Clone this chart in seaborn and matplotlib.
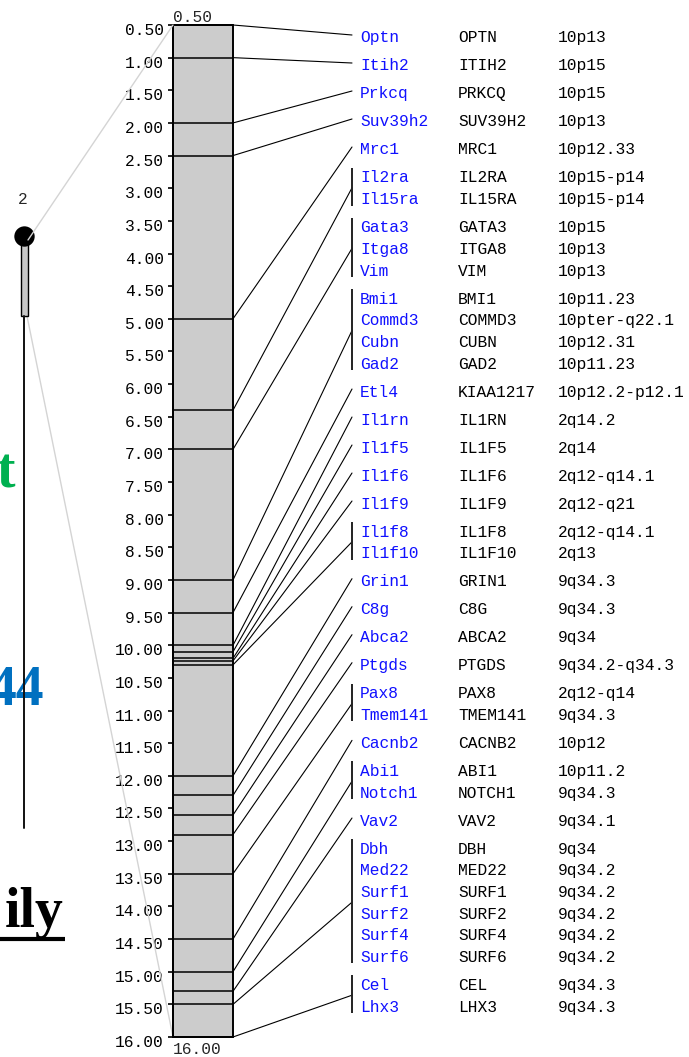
import numpy as np
import matplotlib
matplotlib.use("Agg")
import matplotlib.pyplot as plt
import matplotlib.transforms as mtransforms
import seaborn as sns

# ---- linkage map data (positions in cM) ----
chromosome = "2"
map_start, map_end = 0.50, 16.00
marker_cm = [0.50, 1.00, 2.00, 2.50, 5.00, 6.40, 7.00, 9.00, 9.50, 10.00,
             10.10, 10.20, 10.24, 10.30, 12.00, 12.30, 12.60, 12.90, 13.50,
             14.50, 15.00, 15.30, 15.50, 16.00]
genes_per_marker = [1, 1, 1, 1, 1, 2, 3, 4, 1, 1, 1, 1, 1, 2, 1, 1, 1, 1, 2,
                    1, 2, 1, 6, 2]
gene_names = ["Optn", "Itih2", "Prkcq", "Suv39h2", "Mrc1", "Il2ra", "Il15ra",
              "Gata3", "Itga8", "Vim", "Bmi1", "Commd3", "Cubn", "Gad2", "Etl4",
              "Il1rn", "Il1f5", "Il1f6", "Il1f9", "Il1f8", "Il1f10", "Grin1",
              "C8g", "Abca2", "Ptgds", "Pax8", "Tmem141", "Cacnb2", "Abi1",
              "Notch1", "Vav2", "Dbh", "Med22", "Surf1", "Surf2", "Surf4",
              "Surf6", "Cel", "Lhx3"]
gene_symbols = ["OPTN", "ITIH2", "PRKCQ", "SUV39H2", "MRC1", "IL2RA", "IL15RA",
                "GATA3", "ITGA8", "VIM", "BMI1", "COMMD3", "CUBN", "GAD2",
                "KIAA1217", "IL1RN", "IL1F5", "IL1F6", "IL1F9", "IL1F8",
                "IL1F10", "GRIN1", "C8G", "ABCA2", "PTGDS", "PAX8", "TMEM141",
                "CACNB2", "ABI1", "NOTCH1", "VAV2", "DBH", "MED22", "SURF1",
                "SURF2", "SURF4", "SURF6", "CEL", "LHX3"]
gene_locations = ["10p13", "10p15", "10p15", "10p13", "10p12.33", "10p15-p14",
                  "10p15-p14", "10p15", "10p13", "10p13", "10p11.23",
                  "10pter-q22.1", "10p12.31", "10p11.23", "10p12.2-p12.1",
                  "2q14.2", "2q14", "2q12-q14.1", "2q12-q21", "2q12-q14.1",
                  "2q13", "9q34.3", "9q34.3", "9q34", "9q34.2-q34.3",
                  "2q12-q14", "9q34.3", "10p12", "10p11.2", "9q34.3", "9q34.1",
                  "9q34", "9q34.2", "9q34.2", "9q34.2", "9q34.2", "9q34.2",
                  "9q34.3", "9q34.3"]
tick_step = 0.50

# ---- styling ----
sns.set_theme(style="ticks")
plt.rcParams["font.family"] = ["Liberation Mono", "DejaVu Sans Mono"]
FS = 11.7
GENE_BLUE = "#1010ff"

W, H = 689, 1057
fig = plt.figure(figsize=(W / 100, H / 100), dpi=100)
ax = fig.add_axes([0, 0, 1, 1])

# vertical layout: the map spans these pixel rows
TOP_PX, BOT_PX = 25, 1037
S = (BOT_PX - TOP_PX) / (map_end - map_start)


def cm(py):
    """pixel row -> map coordinate"""
    return map_start + (py - TOP_PX) / S


ax.set_xlim(0, W)
ax.set_ylim(cm(H), cm(0))

BAR_L, BAR_R = 173, 233
LINK_X = 352
COL_NAME, COL_SYM, COL_LOC = 360, 458, 558

# ---- chromosome bar ----
ax.bar(x=(BAR_L + BAR_R) / 2, height=map_end - map_start, bottom=map_start,
       width=BAR_R - BAR_L, color="#cccccc", edgecolor="black",
       linewidth=1.4, zorder=2)
ax.hlines(marker_cm, BAR_L, BAR_R, color="black", lw=1.1, zorder=3,
          clip_on=False)

# axis at the left edge of the bar
for side in ["top", "right", "bottom"]:
    ax.spines[side].set_visible(False)
ax.spines["left"].set_position(("data", BAR_L))
ax.spines["left"].set_bounds(map_start, map_end)
ax.spines["left"].set_linewidth(1.4)
ax.spines["left"].set_color("black")
ticks = np.arange(map_start, map_end + 1e-9, tick_step)
ax.set_yticks(ticks)
ax.set_yticklabels([f"{t:.2f}" for t in ticks])
ax.set_xticks([])
ax.tick_params(axis="y", length=3.6, width=1.2, pad=3, labelsize=FS,
               direction="out", colors="black")
lift = mtransforms.ScaledTranslation(0, 0.02, fig.dpi_scale_trans)
for lab in ax.get_yticklabels():
    lab.set_va("top")
    lab.set_transform(lab.get_transform() + lift)
ax.grid(False)

ax.text(BAR_L, cm(TOP_PX - 3), f"{map_start:.2f}", ha="left", va="baseline",
        fontsize=FS)
ax.text(BAR_L, cm(BOT_PX + 5), f"{map_end:.2f}", ha="left", va="top",
        fontsize=FS)

# ---- gene table ----
FIRST_ROW, GROUP_GAP, ROW_GAP = 37, 28, 21.67
y = FIRST_ROW
k = 0
for g, (pos, n) in enumerate(zip(marker_cm, genes_per_marker)):
    if g > 0:
        y += GROUP_GAP
    rows = []
    for i in range(n):
        if i > 0:
            y += ROW_GAP
        rows.append(y)
        base = cm(y + 5.5)
        ax.text(COL_NAME, base, gene_names[k], color=GENE_BLUE, fontsize=FS,
                va="baseline")
        ax.text(COL_SYM, base, gene_symbols[k], color="black", fontsize=FS,
                va="baseline")
        ax.text(COL_LOC, base, gene_locations[k], color="black", fontsize=FS,
                va="baseline")
        k += 1
    if n == 1:
        end = rows[0] - 2
    else:
        end = (rows[0] + rows[-1]) / 2
        ax.plot([LINK_X, LINK_X], [cm(rows[0] - 9), cm(rows[-1] + 7)],
                color="#222222", lw=1.4, solid_capstyle="butt")
    ax.plot([BAR_R, LINK_X], [pos, cm(end)], color="black", lw=0.8,
            zorder=1)

# ---- whole-chromosome ideogram on the left ----
IDEO_X = 24
ax.text(IDEO_X - 1.5, cm(200), chromosome, ha="center", va="center",
        fontsize=FS)
ax.add_patch(plt.Rectangle((IDEO_X - 3, cm(316)), 7, cm(240) - cm(316),
                           facecolor="#c8c8c8", edgecolor="black", lw=1.0,
                           zorder=4))
ax.plot([IDEO_X, IDEO_X], [cm(316), cm(828)], color="#111111", lw=1.4,
        zorder=4)
sns.scatterplot(x=[IDEO_X - 0.5], y=[cm(236)], s=215, color="black",
                edgecolor="black", linewidth=0, ax=ax, legend=False, zorder=5)
# zoom lines from the ideogram to the map
ax.plot([BAR_L, IDEO_X + 4], [map_start, cm(240)], color="#d4d4d4", lw=1.0,
        zorder=6)
ax.plot([IDEO_X + 3, BAR_L], [cm(316), map_end], color="#d4d4d4", lw=1.0,
        zorder=1)

# ---- slide title fragments behind the figure ----
serif = ["Liberation Serif", "DejaVu Serif"]
ax.text(15, cm(488), "t", ha="right", va="baseline", fontsize=40,
        fontweight="bold", family=serif, color="#00b050", zorder=0)
ax.text(44, cm(705), "44", ha="right", va="baseline", fontsize=40,
        fontweight="bold", family=serif, color="#0070c0", zorder=0)
ax.text(64, cm(927), "ily", ha="right", va="baseline", fontsize=40,
        fontweight="bold", family=serif, color="black", zorder=0)
ax.plot([0, 65], [cm(939.5), cm(939.5)], color="black", lw=3,
        solid_capstyle="butt", zorder=0)

fig.savefig("out.png", dpi=100)
